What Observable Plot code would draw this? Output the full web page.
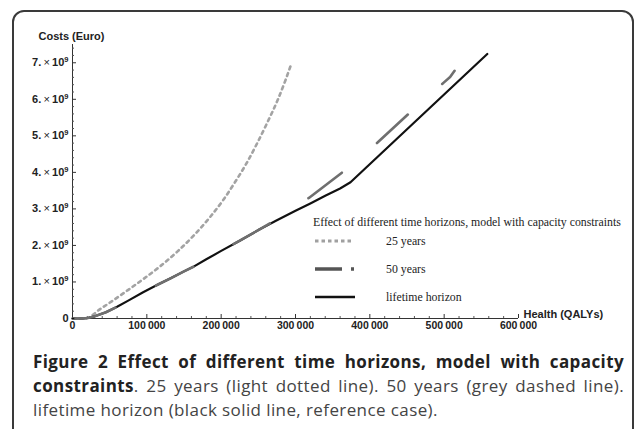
<!DOCTYPE html>
<html><head><meta charset="utf-8">
<script src="https://cdn.jsdelivr.net/npm/d3@7"></script>
<script src="https://cdn.jsdelivr.net/npm/@observablehq/plot@0.6"></script>
<style>
body{margin:0;background:#fff;}
#wrap{position:relative;width:635px;height:429px;overflow:hidden;background:#fff;}
#frame{position:absolute;left:12px;top:10px;width:622px;height:440px;border:2px solid #3a3a3a;border-radius:12px;box-sizing:border-box;}
#chart{position:absolute;left:0;top:0;}
.lg{position:absolute;font-family:"Liberation Serif","Times New Roman",serif;font-size:11.8px;line-height:14px;color:#222;white-space:nowrap;}
#lgsw{position:absolute;left:313px;top:230px;}
#caption{position:absolute;left:33px;top:350px;width:591px;font-family:"Open Sans",sans-serif;font-size:17px;line-height:24px;color:#444;letter-spacing:0.4px;}
#caption div{white-space:nowrap;}
#caption .j{text-align:justify;text-align-last:justify;white-space:normal;}
#caption b{color:#222;font-weight:700;}
</style></head><body>
<div id="wrap">
<div id="frame"></div>
<div id="chart"></div>
<div class="lg" id="lgtitle" style="left:313px;top:215px;"></div>
<div class="lg" id="lg0" style="left:386px;top:234px;"></div>
<div class="lg" id="lg1" style="left:386px;top:262px;"></div>
<div class="lg" id="lg2" style="left:386px;top:290px;"></div>
<svg id="lgsw" width="50" height="75"></svg>
<div id="caption">
<div class="j"><b>Figure 2 Effect of different time horizons, model with capacity</b></div>
<div class="j"><b>constraints</b>. 25 years (light dotted line). 50 years (grey dashed line).</div>
<div>lifetime horizon (black solid line, reference case).</div>
</div>
</div>
<script>
// ---- data (Health in QALYs, Costs in Euro) ----
const seriesNames = ["25 years", "50 years", "lifetime horizon"];
const legendTitle = "Effect of different time horizons, model with capacity constraints";

const h25 = [0, 17000, 38000, 55000, 74000, 96000, 118000, 141000, 163000, 186000, 203000, 217000, 235000, 249000, 262000, 276000, 287000, 294000];
const c25 = [0, 0.0e9, 0.27e9, 0.50e9, 0.77e9, 1.09e9, 1.43e9, 1.83e9, 2.27e9, 2.80e9, 3.25e9, 3.68e9, 4.28e9, 4.82e9, 5.36e9, 5.98e9, 6.55e9, 6.95e9];

const h50 = [0, 15000, 22000, 30000, 45000, 60000, 75000, 95000, 115000, 132000, 150000, 163000, 180000, 200000, 225000, 250000, 270000, 285000, 300000, 318000, 363000, 410000, 452000, 499000, 508000, 514000];
const c50 = [0, 0, 0.02e9, 0.06e9, 0.17e9, 0.32e9, 0.49e9, 0.72e9, 0.93e9, 1.10e9, 1.29e9, 1.42e9, 1.62e9, 1.85e9, 2.13e9, 2.42e9, 2.66e9, 2.86e9, 3.06e9, 3.30e9, 4.00e9, 4.81e9, 5.60e9, 6.45e9, 6.61e9, 6.78e9];

const hLife = [0, 15000, 22000, 30000, 45000, 60000, 75000, 95000, 115000, 132000, 150000, 163000, 180000, 200000, 225000, 250000, 275000, 300000, 320000, 340000, 360000, 374000, 558000];
const cLife = [0, 0, 0.02e9, 0.06e9, 0.17e9, 0.32e9, 0.49e9, 0.72e9, 0.93e9, 1.10e9, 1.29e9, 1.42e9, 1.62e9, 1.85e9, 2.13e9, 2.42e9, 2.69e9, 2.95e9, 3.15e9, 3.36e9, 3.56e9, 3.73e9, 7.24e9];

const xTicks = [0, 100000, 200000, 300000, 400000, 500000, 600000];
const xMinor = d3.range(20000, 600000, 20000).filter(v => v % 100000 !== 0);
const yTicks = [0, 1e9, 2e9, 3e9, 4e9, 5e9, 6e9, 7e9];
const yMinor = d3.range(1, 38).map(i => i * 0.2e9).filter(v => Math.abs(v / 1e9 - Math.round(v / 1e9)) > 1e-6);
const xTitle = "Health (QALYs)";
const yTitle = "Costs (Euro)";

const toRows = (X, Y) => X.map((x, i) => ({x, y: Y[i]}));

const chart = Plot.plot({
  width: 635, height: 340,
  marginLeft: 72, marginRight: 117, marginTop: 44, marginBottom: 22,
  x: {domain: [0, 600000], axis: null},
  y: {domain: [0, 7.5e9], axis: null},
  style: {fontFamily: "'Liberation Sans', Arial, sans-serif", background: "transparent", overflow: "visible"},
  marks: [
    Plot.ruleY([0], {stroke: "#333", strokeWidth: 1}),
    Plot.ruleX([0], {stroke: "#333", strokeWidth: 1}),
    Plot.tickX(xTicks, {x: d => d, insetTop: 270, stroke: "#333"}),
    Plot.tickX(xMinor, {x: d => d, insetTop: 272, stroke: "#555"}),
    Plot.tickY(yTicks, {y: d => d, insetRight: 442, stroke: "#333"}),
    Plot.tickY(yMinor, {y: d => d, insetRight: 444, stroke: "#555"}),
    Plot.text(xTicks, {x: d => d, y: 0, text: d => d3.format(",")(d).replace(/,/g, "\u2009"), lineAnchor: "top", dy: 3, fontWeight: "bold", fontSize: 10.5, fill: "#222"}),
    Plot.text(yTicks, {x: 0, y: d => d, text: d => d === 0 ? "0" : `${d / 1e9}|9`, textAnchor: "end", dx: -4, fontWeight: "bold", fontSize: 11, fill: "#222"}),
    Plot.text([yTitle], {frameAnchor: "top-left", text: d => d, dx: -34, dy: -12, textAnchor: "start", fontWeight: "bold", fontSize: 11, fill: "#222"}),
    Plot.text([xTitle], {frameAnchor: "bottom-right", text: d => d, dx: 5, dy: -1, textAnchor: "start", fontWeight: "bold", fontSize: 11, fill: "#222"}),
    Plot.line(toRows(h25, c25), {x: "x", y: "y", stroke: "#a3a3a3", strokeWidth: 2.6, strokeDasharray: "3,4", curve: "monotone-x"}),
    Plot.line(toRows(hLife, cLife), {x: "x", y: "y", stroke: "#111", strokeWidth: 2.2, curve: "linear"}),
    Plot.line(toRows(h50, c50), {x: "x", y: "y", stroke: "#6f6f6f", strokeWidth: 2.6, strokeDasharray: "42,46", strokeDashoffset: 85, curve: "linear"})
  ]
});
document.getElementById("chart").appendChild(chart);

// y tick labels in Mathematica style: "7. × 10^9"
d3.select(chart).selectAll("text").each(function() {
  const t = this.textContent;
  if (!t.includes("|")) return;
  const [m, e] = t.split("|");
  const sel = d3.select(this);
  sel.text(null);
  sel.append("tspan").text(m + ".");
  sel.append("tspan").attr("font-weight", "normal").text("\u2009\u00d7\u2009");
  sel.append("tspan").text("10");
  sel.append("tspan").attr("font-size", 7.5).attr("dy", -4).text(e);
});

// legend
document.getElementById("lgtitle").textContent = legendTitle;
seriesNames.forEach((n, i) => document.getElementById("lg" + i).textContent = n);
const sw = d3.select("#lgsw");
sw.append("line").attr("x1", 2).attr("x2", 41).attr("y1", 11).attr("y2", 11).attr("stroke", "#a0a0a0").attr("stroke-width", 3).attr("stroke-dasharray", "3.5,3");
sw.append("line").attr("x1", 2).attr("x2", 29).attr("y1", 39).attr("y2", 39).attr("stroke", "#555").attr("stroke-width", 3.5);
sw.append("line").attr("x1", 38).attr("x2", 41).attr("y1", 39).attr("y2", 39).attr("stroke", "#555").attr("stroke-width", 3.5);
sw.append("line").attr("x1", 2).attr("x2", 42).attr("y1", 67).attr("y2", 67).attr("stroke", "#111").attr("stroke-width", 2.5);
</script>
</body></html>
